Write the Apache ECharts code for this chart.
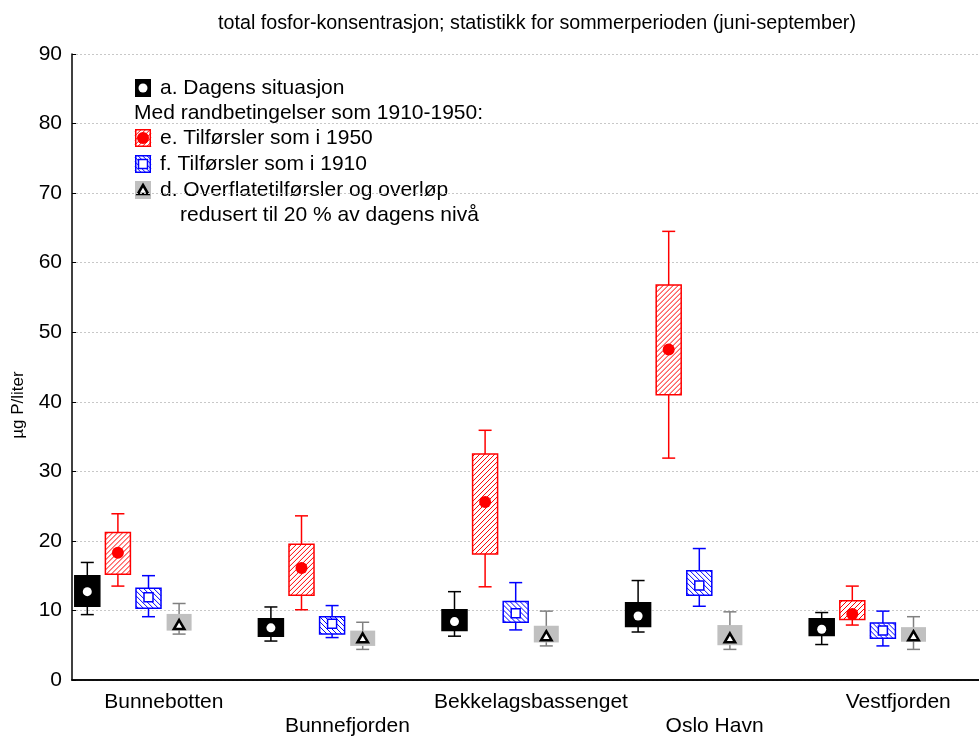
<!DOCTYPE html>
<html>
<head>
<meta charset="utf-8">
<script src="https://cdn.jsdelivr.net/npm/echarts@6/dist/echarts.min.js"></script>
<style>html,body{margin:0;padding:0;background:#fff;overflow:hidden;width:979px;height:738px}#c{width:991px;height:738px}</style>
</head>
<body>
<div id="c"></div>
<script>
const categories = ['Bunnebotten','Bunnefjorden','Bekkelagsbassenget','Oslo Havn','Vestfjorden'];
const yTicks = [0,10,20,30,40,50,60,70,80,90];

// a. Dagens situasjon (black)
const aLow  = [9.4, 5.6, 6.3, 6.9, 5.1];
const aQ1   = [10.6, 6.3, 7.1, 7.7, 6.4];
const aQ3   = [15.0, 8.8, 10.1, 11.1, 8.8];
const aHigh = [16.9, 10.5, 12.7, 14.3, 9.7];
const aMean = [12.7, 7.5, 8.4, 9.2, 7.3];
// e. Tilførsler som i 1950 (red)
const eLow  = [13.5, 10.1, 13.4, 31.9, 7.9];
const eQ1   = [15.2, 12.2, 18.1, 41.0, 8.7];
const eQ3   = [21.2, 19.5, 32.5, 56.8, 11.4];
const eHigh = [23.9, 23.6, 35.9, 64.5, 13.5];
const eMean = [18.3, 16.1, 25.6, 47.5, 9.5];
// f. Tilførsler som i 1910 (blue)
const fLow  = [9.1, 6.1, 7.2, 10.6, 4.9];
const fQ1   = [10.3, 6.6, 8.3, 12.2, 6.0];
const fQ3   = [13.2, 9.1, 11.3, 15.7, 8.2];
const fHigh = [15.0, 10.7, 14.0, 18.9, 9.9];
const fMean = [11.9, 8.1, 9.6, 13.6, 7.1];
// d. Overflatetilførsler og overløp redusert (gray)
const dLow  = [6.6, 4.4, 4.9, 4.4, 4.4];
const dQ1   = [7.1, 4.9, 5.4, 5.0, 5.5];
const dQ3   = [9.5, 7.1, 7.8, 7.9, 7.6];
const dHigh = [11.0, 8.3, 9.9, 9.8, 9.1];
const dMean = [7.9, 6.0, 6.3, 6.0, 6.3];

const FONT = 'Liberation Sans, Arial, sans-serif';

function build(low, q1, q3, high, mean) {
  return categories.map((c, i) => [i, low[i], q1[i], q3[i], high[i], mean[i]]);
}

function hatch(x0, y0, x1, y1, dir, step, color, lw) {
  const out = [];
  if (dir === '/') {
    for (let c = x0 + y0 + step / 2; c < x1 + y1; c += step) {
      const xa = Math.max(x0, c - y1), xb = Math.min(x1, c - y0);
      if (xb <= xa) continue;
      out.push({type:'line', shape:{x1:xa, y1:c - xa, x2:xb, y2:c - xb}, style:{stroke:color, lineWidth:lw}, silent:true});
    }
  } else {
    for (let c = x0 - y1 + step / 2; c < x1 - y0; c += step) {
      const xa = Math.max(x0, c + y0), xb = Math.min(x1, c + y1);
      if (xb <= xa) continue;
      out.push({type:'line', shape:{x1:xa, y1:xa - c, x2:xb, y2:xb - c}, style:{stroke:color, lineWidth:lw}, silent:true});
    }
  }
  return out;
}

function marker(kind, x, y, s) {
  if (kind === 'a') return {type:'circle', shape:{cx:x, cy:y, r:4.5*s}, style:{fill:'#fff'}};
  if (kind === 'e') return {type:'circle', shape:{cx:x, cy:y, r:6*s}, style:{fill:'#ff0000'}};
  if (kind === 'f') return {type:'rect', shape:{x:x-4.5*s, y:y-4.5*s, width:9*s, height:9*s}, style:{fill:'#fff', stroke:'#0000ff', lineWidth:1.5}};
  const h = 5*s;
  return {type:'polygon', shape:{points:[[x, y-h], [x+h*1.05, y+h*0.8], [x-h*1.05, y+h*0.8]]}, style:{fill:'#fff', stroke:'#000', lineWidth:2.5, lineJoin:'miter'}};
}

const styles = {
  a: {k:0, line:'#000000', fill:'#000000', stroke:'#000000', hatch:null},
  e: {k:1, line:'#ff0000', fill:'#ffffff', stroke:'#ff0000', hatch:'/'},
  f: {k:2, line:'#0000ff', fill:'#ffffff', stroke:'#0000ff', hatch:'\\'},
  d: {k:3, line:'#808080', fill:'#c0c0c0', stroke:null, hatch:null}
};

function makeRender(key) {
  const st = styles[key];
  return function (params, api) {
    const ci = api.value(0);
    const bw = api.size([1, 0])[0];
    const xc = api.coord([ci, 0])[0] + (st.k - 2.5) * bw / 6;
    const yLow = api.coord([ci, api.value(1)])[1];
    const yQ1 = api.coord([ci, api.value(2)])[1];
    const yQ3 = api.coord([ci, api.value(3)])[1];
    const yHigh = api.coord([ci, api.value(4)])[1];
    const yMean = api.coord([ci, api.value(5)])[1];
    const hw = 12.5, cw = 6.5;
    const ch = [];
    const ls = {stroke: st.line, lineWidth: 1.5};
    ch.push({type:'line', shape:{x1:xc, y1:yHigh, x2:xc, y2:yLow}, style:ls});
    ch.push({type:'line', shape:{x1:xc-cw, y1:yHigh, x2:xc+cw, y2:yHigh}, style:ls});
    ch.push({type:'line', shape:{x1:xc-cw, y1:yLow, x2:xc+cw, y2:yLow}, style:ls});
    ch.push({type:'rect', shape:{x:xc-hw, y:yQ3, width:2*hw, height:yQ1-yQ3}, style:{fill:st.fill, stroke:'none'}});
    if (st.hatch) hatch(xc-hw, yQ3, xc+hw, yQ1, st.hatch, 5, st.stroke, 1).forEach(h => ch.push(h));
    if (st.stroke) ch.push({type:'rect', shape:{x:xc-hw, y:yQ3, width:2*hw, height:yQ1-yQ3}, style:{fill:'none', stroke:st.stroke, lineWidth:1.5}});
    ch.push(marker(key, xc, yMean, 1));
    return {type:'group', children: ch};
  };
}

function legendItems() {
  const items = [];
  const sx = 135, sw = 16, sh = 18;
  const rows = [
    {key:'a', y:88, text:'a. Dagens situasjon'},
    {key:null, y:113, text:'Med randbetingelser som 1910-1950:'},
    {key:'e', y:138, text:'e. Tilførsler som i 1950'},
    {key:'f', y:164, text:'f. Tilførsler som i 1910'},
    {key:'d', y:190, text:'d. Overflatetilførsler og overløp'},
    {key:null, y:215, text:'redusert til 20 % av dagens nivå', indent:true}
  ];
  rows.forEach(r => {
    if (r.key) {
      const st = styles[r.key];
      const x0 = sx, y0 = r.y - sh/2;
      items.push({type:'rect', shape:{x:x0, y:y0, width:sw, height:sh}, style:{fill:st.fill}});
      if (st.hatch) hatch(x0, y0, x0+sw, y0+sh, st.hatch, 4.5, st.stroke, 1).forEach(h => items.push(h));
      if (st.stroke && st.hatch) items.push({type:'rect', shape:{x:x0+0.75, y:y0+0.75, width:sw-1.5, height:sh-1.5}, style:{fill:'none', stroke:st.stroke, lineWidth:1.5}});
      items.push(marker(r.key, x0 + sw/2, r.y, 1));
      items.push({type:'text', x:160, y:r.y, style:{text:r.text, font:'21px ' + FONT, fill:'#000', textVerticalAlign:'middle'}});
    } else {
      items.push({type:'text', x: r.indent ? 180 : 134, y:r.y, style:{text:r.text, font:'21px ' + FONT, fill:'#000', textVerticalAlign:'middle'}});
    }
  });
  return items;
}

const chart = echarts.init(document.getElementById('c'), null, {renderer:'canvas'});
chart.setOption({
  animation: false,
  backgroundColor: '#fff',
  title: {
    text: 'total fosfor-konsentrasjon; statistikk for sommerperioden (juni-september)',
    left: 532, top: 9, textAlign: 'center',
    textStyle: {fontFamily: FONT, fontSize: 19.7, fontWeight: 'normal', color: '#000'}
  },
  grid: {left: 72, right: 1, top: 54, bottom: 57},
  xAxis: [{
    type: 'category', data: categories, position: 'bottom',
    axisLine: {lineStyle: {color: '#000', width: 1.5}},
    axisTick: {inside: true, alignWithLabel: true, length: 4, lineStyle: {color: '#000'}},
    axisLabel: {
      interval: 0, fontFamily: FONT, fontSize: 21, color: '#000', margin: 10, lineHeight: 24,
      formatter: (v, i) => (i % 2 === 1 ? '\n' + v : v)
    }
  }, {
    type: 'category', data: categories, position: 'top',
    axisLine: {lineStyle: {color: '#000', width: 1.5}},
    axisTick: {inside: true, alignWithLabel: true, length: 4, lineStyle: {color: '#000'}},
    axisLabel: {show: false}
  }],
  yAxis: [{
    type: 'value', min: 0, max: 90, interval: 10,
    axisLine: {show: true, lineStyle: {color: '#000', width: 1.5}},
    axisTick: {show: true, inside: true, length: 4, lineStyle: {color: '#000'}},
    axisLabel: {fontFamily: FONT, fontSize: 21, color: '#000', margin: 10, formatter: v => yTicks.includes(v) ? String(v) : ''},
    splitLine: {show: true, lineStyle: {color: '#c8c8c8', type: [2, 2], width: 1}}
  }, {
    type: 'value', min: 0, max: 90, interval: 10, position: 'right',
    axisLine: {show: true, lineStyle: {color: '#000', width: 1.5}},
    axisTick: {show: true, inside: true, length: 4}, axisLabel: {show: false}, splitLine: {show: false}
  }],
  graphic: [
    {type:'text', x:18, y:405, rotation: Math.PI/2, style:{text:'µg P/liter', font:'17px ' + FONT, fill:'#000', textAlign:'center', textVerticalAlign:'middle'}}
  ].concat(legendItems()),
  series: [
    {type:'custom', name:'a', renderItem: makeRender('a'), data: build(aLow, aQ1, aQ3, aHigh, aMean), encode:{x:0, y:[1,2,3,4,5]}, clip:false},
    {type:'custom', name:'e', renderItem: makeRender('e'), data: build(eLow, eQ1, eQ3, eHigh, eMean), encode:{x:0, y:[1,2,3,4,5]}, clip:false},
    {type:'custom', name:'f', renderItem: makeRender('f'), data: build(fLow, fQ1, fQ3, fHigh, fMean), encode:{x:0, y:[1,2,3,4,5]}, clip:false},
    {type:'custom', name:'d', renderItem: makeRender('d'), data: build(dLow, dQ1, dQ3, dHigh, dMean), encode:{x:0, y:[1,2,3,4,5]}, clip:false}
  ]
});
</script>
</body>
</html>
